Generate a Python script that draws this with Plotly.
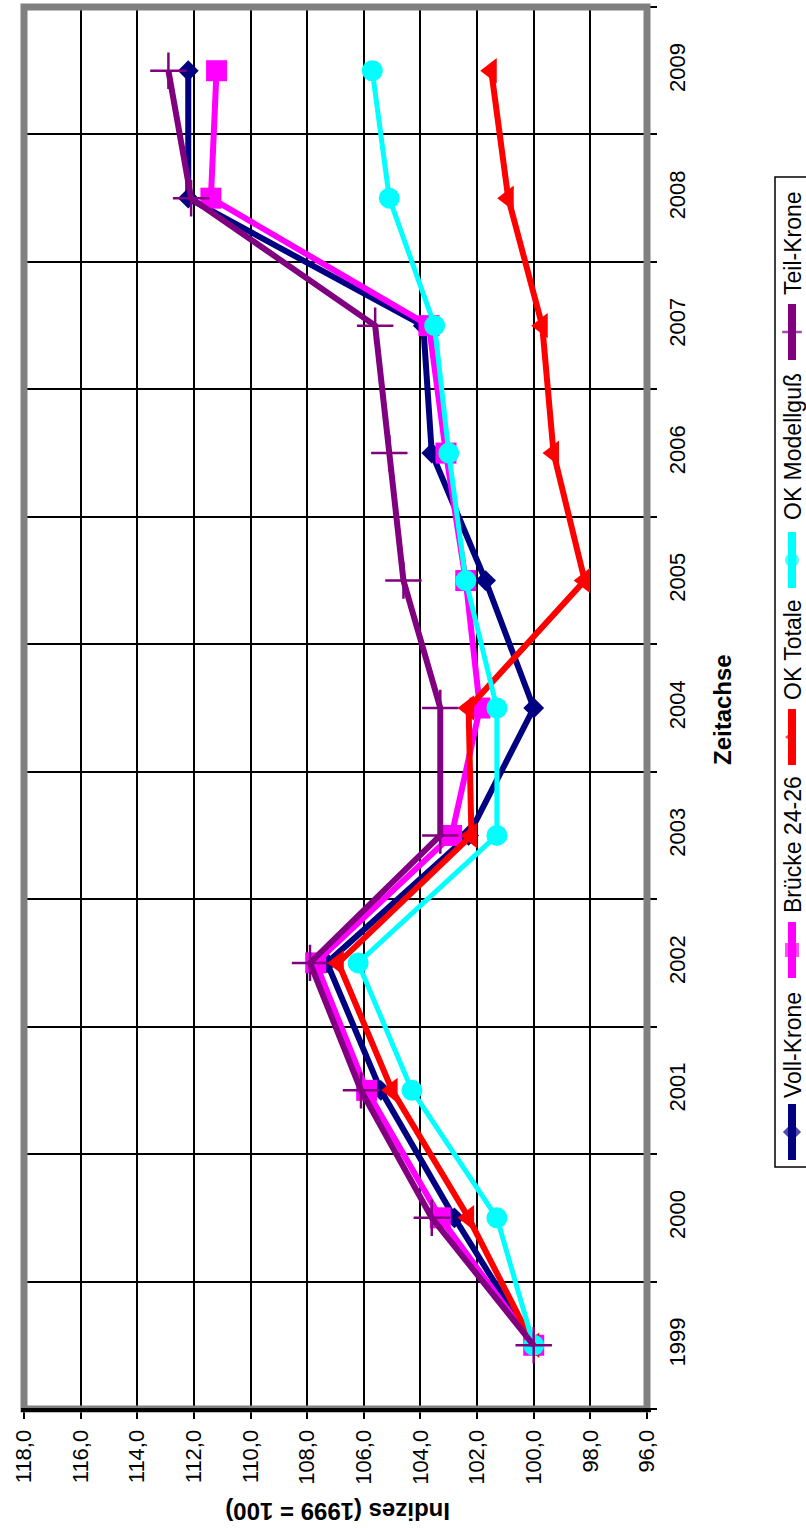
import plotly.graph_objects as go

# ---------------- data ----------------
years = [1999, 2000, 2001, 2002, 2003, 2004, 2005, 2006, 2007, 2008, 2009]
year_labels = [str(y) for y in years]
voll_krone = [100.0, 102.8, 105.4, 107.3, 102.3, 100.0, 101.7, 103.6, 103.9, 112.2, 112.2]
bruecke = [100.0, 103.3, 105.9, 107.7, 102.9, 101.9, 102.4, 103.1, 103.7, 111.4, 111.2]
ok_totale = [100.0, 102.3, 105.0, 106.9, 102.2, 102.3, 98.2, 99.3, 99.7, 100.9, 101.5]
ok_modellguss = [100.0, 101.3, 104.3, 106.2, 101.3, 101.3, 102.4, 103.0, 103.5, 105.1, 105.7]
teil_krone = [100.0, 103.6, 106.1, 107.9, 103.3, 103.3, 104.6, 105.1, 105.6, 112.1, 112.9]
series_names = ["Voll-Krone", "Brücke 24-26", "OK Totale", "OK Modellguß", "Teil-Krone"]
value_ticks = [96, 98, 100, 102, 104, 106, 108, 110, 112, 114, 116, 118]
value_title = "Indizes (1999 = 100)"
time_title = "Zeitachse"

# ---------------- geometry ----------------
# the page's body margin is removed (post_script), so figure pixels == screenshot pixels
W, H = 806, 1530


def fx(px):
    return px / W


def fy(py):
    return 1 - py / H


styles = [
    dict(color="#000080", symbol="diamond", size=16, width=6, mline=0),
    dict(color="#FF00FF", symbol="square", size=21, width=6, mline=0),
    dict(color="#FF0000", symbol="triangle-left", size=22, width=6, mline=0),
    dict(color="#00FFFF", symbol="circle", size=21, width=5, mline=0),
    dict(color="#800080", symbol="cross-thin", size=26, width=6, mline=2.5),
]
series_values = [voll_krone, bruecke, ok_totale, ok_modellguss, teil_krone]

# plot area in screenshot pixels
PL, PR, PT, PB = 24, 647, 7, 1409

fig = go.Figure()
for name, vals, st in zip(series_names, series_values, styles):
    fig.add_trace(go.Scatter(
        x=vals, y=years, name=name, mode="lines+markers",
        line=dict(color=st["color"], width=st["width"]),
        marker=dict(symbol=st["symbol"], size=st["size"], color=st["color"],
                    line=dict(color=st["color"], width=st["mline"])),
        xaxis="x", yaxis="y", cliponaxis=False,
    ))

# legend (rotated, drawn on a pixel overlay axis)
legend_text_y = [1045, 845, 650, 447, 243]
legend_seg_y = [1132, 950, 737, 560, 332]
LX = 792
for name, st, ty, sy in zip(series_names, styles, legend_text_y, legend_seg_y):
    fig.add_trace(go.Scatter(
        x=[LX, LX, LX], y=[sy - 28, sy, sy + 28], mode="lines+markers",
        line=dict(color=st["color"], width=8),
        marker=dict(symbol=st["symbol"], size=[0, min(st["size"], 14), 0], color=st["color"],
                    line=dict(color=st["color"], width=st["mline"])),
        xaxis="x2", yaxis="y2", showlegend=False, hoverinfo="skip",
    ))
    fig.add_annotation(x=LX + 1, y=ty, xref="x2", yref="y2", text=name, showarrow=False,
                       textangle=-90, font=dict(size=23, color="black"))

fig.add_annotation(x=722, y=710, xref="x2", yref="y2", text="<b>" + time_title + "</b>",
                   showarrow=False, textangle=-90, font=dict(size=24, color="black"))
fig.add_annotation(x=338, y=1512, xref="x2", yref="y2", text="<b>" + value_title + "</b>",
                   showarrow=False, textangle=180, font=dict(size=24, color="black"))

shapes = [
    dict(type="rect", xref="paper", yref="paper", x0=fx(PL), x1=fx(PR), y0=fy(PB), y1=fy(PT),
         line=dict(color="#808080", width=7), layer="above"),
    dict(type="line", xref="paper", yref="paper", x0=fx(PL - 3), x1=fx(PR + 4),
         y0=fy(PB + 1), y1=fy(PB + 1), line=dict(color="black", width=4), layer="above"),
    dict(type="rect", xref="paper", yref="paper", x0=fx(775), x1=1.02, y0=fy(1167), y1=fy(177),
         line=dict(color="black", width=1.5), layer="above"),
]

fig.update_layout(
    width=W, height=H, margin=dict(l=0, r=0, t=0, b=0, autoexpand=False), autosize=False,
    paper_bgcolor="white", plot_bgcolor="rgba(0,0,0,0)", separators=",.", showlegend=False,
    font=dict(family="Liberation Sans, Arial, sans-serif", color="black"),
    shapes=shapes,
    xaxis=dict(domain=[fx(PL), fx(PR)], range=[118, 96], tickvals=value_ticks, tickformat=".1f",
               tickangle=-90, showgrid=True, gridcolor="black", gridwidth=2, ticks="outside",
               ticklen=9, tickwidth=2, tickcolor="black", tickfont=dict(size=22),
               zeroline=False, showline=False, anchor="y", ticklabelstandoff=2, automargin=False),
    yaxis=dict(domain=[fy(PB), fy(PT)], range=[1998.5, 2009.5], side="right",
               tickvals=years, ticktext=year_labels, tickangle=-90, showgrid=False, ticks="",
               tickfont=dict(size=22), zeroline=False, showline=False, anchor="x",
               ticklabelstandoff=15, automargin=False,
               minor=dict(tickvals=[y - 0.5 for y in years] + [years[-1] + 0.5], ticks="outside",
                          ticklen=9, tickwidth=2, tickcolor="black", showgrid=True,
                          gridcolor="black", gridwidth=2)),
    xaxis2=dict(domain=[0, 1], range=[0, W], visible=False, anchor="y2", fixedrange=True,
                automargin=False),
    yaxis2=dict(domain=[0, 1], range=[H, 0], visible=False, anchor="x2", fixedrange=True,
                automargin=False),
)

fig.write_html("out.html", config={"displayModeBar": False},
               post_script="document.body.style.margin='0px';document.body.style.overflow='hidden';")
